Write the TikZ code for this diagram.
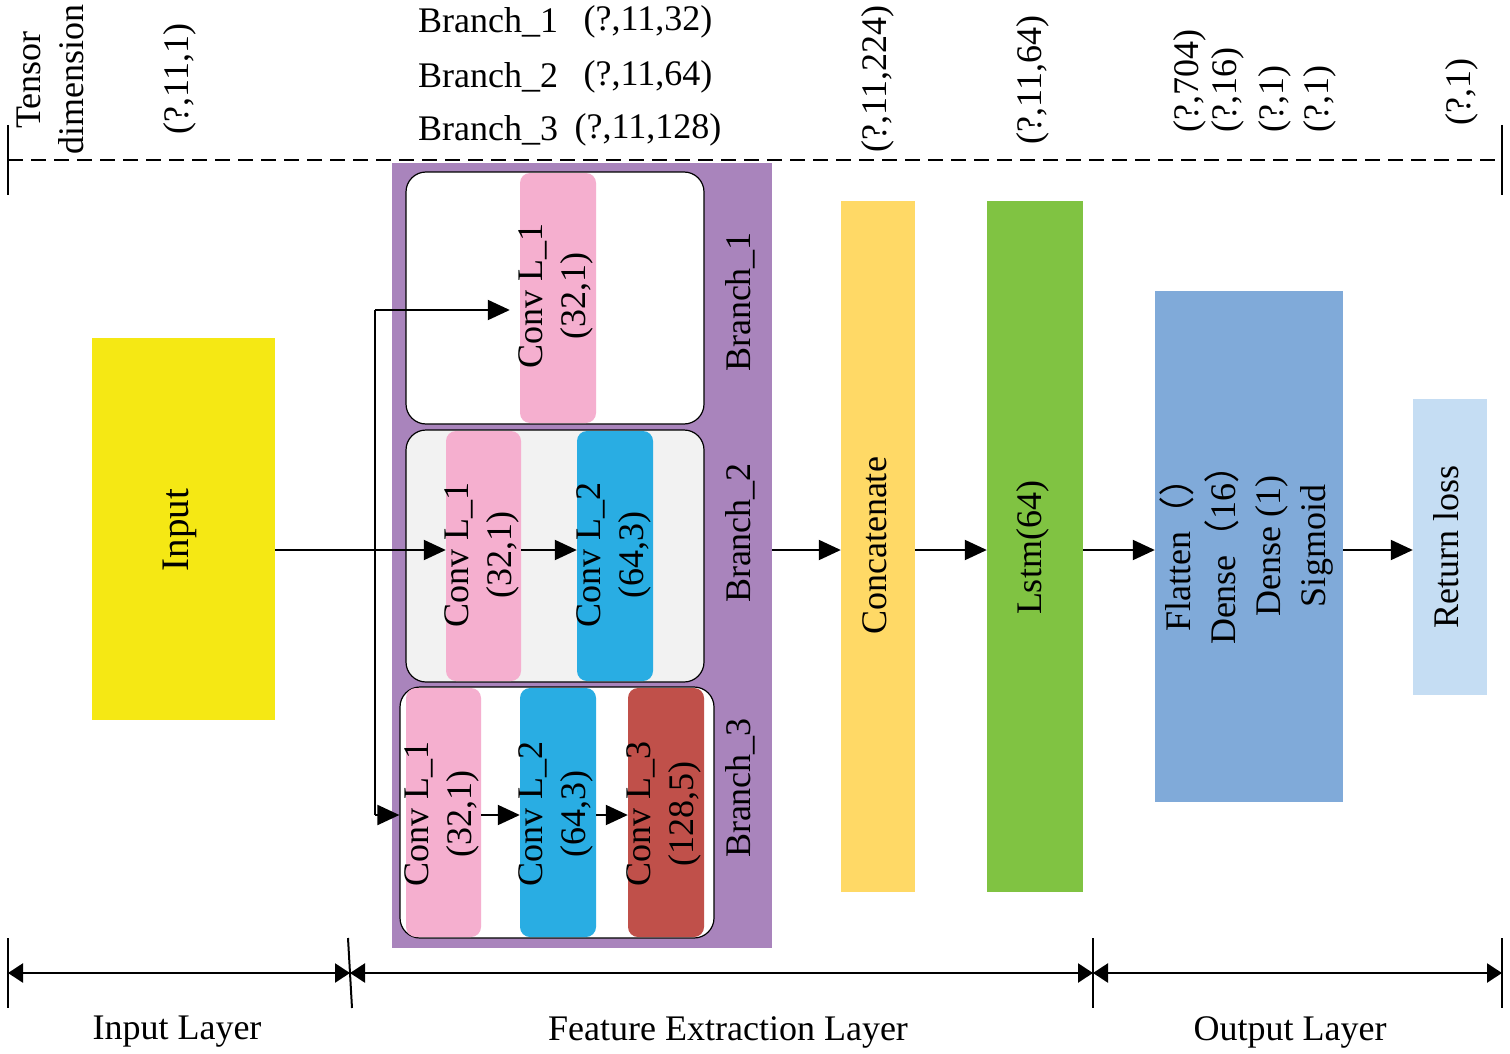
\documentclass[tikz,border=0pt]{standalone}
\usepackage{fontspec}
\setmainfont{Liberation Serif}
\newfontfamily\cjk{Noto Sans CJK SC}
\usetikzlibrary{arrows.meta}
\definecolor{purpleC}{HTML}{A984BC}
\definecolor{yellowC}{HTML}{F5E814}
\definecolor{pinkC}{HTML}{F5AFCF}
\definecolor{blueC}{HTML}{29ADE3}
\definecolor{redC}{HTML}{C0504A}
\definecolor{grayC}{HTML}{F2F2F2}
\definecolor{concC}{HTML}{FFD966}
\definecolor{lstmC}{HTML}{80C342}
\definecolor{denseC}{HTML}{80AAD9}
\definecolor{retC}{HTML}{C5DDF3}
\begin{document}
\begin{tikzpicture}[x=1pt,y=-1pt,
  font=\fontsize{36}{43}\selectfont,
  rect/.style 2 args={inner sep=0pt, minimum width=#1, minimum height=#2, draw=none},
  branchbox/.style={draw=black, line width=1.2pt, rounded corners=20pt},
  convbox/.style={rounded corners=10pt},
  vtext/.style={rotate=90, inner sep=0pt, align=center},
  arr/.style={line width=2pt, -{Triangle[length=22pt,width=20pt]}},
  dimarr/.style={line width=2.4pt, {Triangle[length=15pt,width=19pt]}-{Triangle[length=15pt,width=19pt]}},
  tick/.style={line width=2pt}
]
\useasboundingbox (0,0) rectangle (1510,1054);

% ---------- header ----------
\coordinate (tl) at (8,160);
\coordinate (tr) at (1502,160);
\coordinate (tlA) at (8,125);
\coordinate (tlB) at (8,195);
\coordinate (trA) at (1502,125);
\coordinate (trB) at (1502,195);
\draw[line width=2.2pt, dash pattern=on 15pt off 8pt] (tl) -- (tr);
\draw[tick] (tlA) -- (tlB);
\draw[tick] (trA) -- (trB);

\node[vtext] (tdim) at (50,80) {Tensor\\dimension};
\node[vtext] (d1) at (180,79) {(?,11,1)};
\node[anchor=west, inner sep=0pt] (bn1) at (418,22) {Branch\_1};
\node[anchor=west, inner sep=0pt] (bn2) at (418,77) {Branch\_2};
\node[anchor=west, inner sep=0pt] (bn3) at (418,130) {Branch\_3};
\node[inner sep=0pt] (bd1) at (648,22) {(?,11,32)};
\node[inner sep=0pt] (bd2) at (648,77) {(?,11,64)};
\node[inner sep=0pt] (bd3) at (648,130) {(?,11,128)};
\node[vtext] (d224) at (878,79) {(?,11,224)};
\node[vtext] (d64) at (1033,80) {(?,11,64)};
\node[vtext, anchor=west] (d704) at (1190,133) {(?,704)};
\node[vtext, anchor=west] (d16) at (1228,133) {(?,16)};
\node[vtext, anchor=west] (d1a) at (1275,133) {(?,1)};
\node[vtext, anchor=west] (d1b) at (1320,133) {(?,1)};
\node[vtext, anchor=west] (d1c) at (1462,126) {(?,1)};

% ---------- input ----------
\node[rect={183}{382}, fill=yellowC] (inp) at (183.5,529) {};
\node[vtext, font=\fontsize{39}{46}\selectfont] (inptxt) at (180,530) {Input};

% ---------- feature extraction ----------
\node[rect={380}{785}, fill=purpleC] (fe) at (582,555.5) {};

\node[rect={298}{252}, fill=white, branchbox] (br1) at (555,298) {};
\node[rect={76}{250}, fill=pinkC, convbox] (c11) at (558,298) {};
\node[vtext] (c11t) at (556,296) {Conv L\_1\\(32,1)};

\node[rect={298}{252}, fill=grayC, branchbox] (br2) at (555,556) {};
\node[rect={75}{250}, fill=pinkC, convbox] (c21) at (483.5,556) {};
\node[rect={76}{250}, fill=blueC, convbox] (c22) at (615,556) {};
\node[vtext] (c21t) at (482,555) {Conv L\_1\\(32,1)};
\node[vtext] (c22t) at (614,555) {Conv L\_2\\(64,3)};

\node[rect={314}{251}, fill=white, branchbox] (br3) at (557,812.5) {};
\node[rect={75}{249}, fill=pinkC, convbox] (c31) at (443.5,812.5) {};
\node[rect={76}{249}, fill=blueC, convbox] (c32) at (558,812.5) {};
\node[rect={76}{249}, fill=redC, convbox] (c33) at (666,812.5) {};
\node[vtext] (c31t) at (442,814) {Conv L\_1\\(32,1)};
\node[vtext] (c32t) at (556,814) {Conv L\_2\\(64,3)};
\node[vtext] (c33t) at (664,814) {Conv L\_3\\(128,5)};

\node[vtext] (bl1) at (740,302) {Branch\_1};
\node[vtext] (bl2) at (740,533) {Branch\_2};
\node[vtext] (bl3) at (740,788) {Branch\_3};

% ---------- later layers ----------
\node[rect={74}{691}, fill=concC] (conc) at (878,546.5) {};
\node[vtext] (conct) at (875,546) {Concatenate};
\node[rect={96}{691}, fill=lstmC] (lstm) at (1035,546.5) {};
\node[vtext] (lstmt) at (1033,548) {Lstm(64)};
\node[rect={188}{511}, fill=denseC] (dense) at (1249,546.5) {};
\node[vtext, font=\fontsize{36}{45}\selectfont] (denset) at (1246,546)
  {Flatten{\cjk（）}\\Dense{\cjk（}16{\cjk）}\\Dense (1)\\Sigmoid};
\node[rect={74}{296}, fill=retC] (ret) at (1450,547) {};
\node[vtext] (rett) at (1446,547) {Return loss};

% ---------- connectors ----------
\coordinate (mid) at (0,550);
\coordinate (low) at (0,815);
\coordinate (sTop) at (375,310);
\coordinate (sBot) at (375,815);
\draw[arr] (inp.east |- mid) -- (c21.west |- mid);
\draw[line width=2pt] (sTop) -- (sBot);
\draw[arr] (sTop) -- ([xshift=-10pt]c11.west |- sTop);
\draw[arr] (sBot) -- (br3.west |- sBot);
\draw[arr] (c21.east |- mid) -- (c22.west |- mid);
\draw[arr] (c31.east |- low) -- (c32.west |- low);
\draw[arr] (c32.east |- low) -- (c33.west |- low);
\draw[arr] (fe.east |- mid) -- (conc.west |- mid);
\draw[arr] (conc.east |- mid) -- (lstm.west |- mid);
\draw[arr] (lstm.east |- mid) -- (dense.west |- mid);
\draw[arr] (dense.east |- mid) -- (ret.west |- mid);

% ---------- bottom layer spans ----------
\coordinate (b0t) at (8,938);   \coordinate (b0b) at (8,1008);
\coordinate (b1t) at (348,938); \coordinate (b1b) at (352,1008);
\coordinate (b2t) at (1093,938);\coordinate (b2b) at (1093,1008);
\coordinate (b3t) at (1502,938);\coordinate (b3b) at (1502,1008);
\draw[tick] (b0t) -- (b0b);
\draw[tick] (b1t) -- (b1b);
\draw[tick] (b2t) -- (b2b);
\draw[tick] (b3t) -- (b3b);
\coordinate (a0) at (8,973);
\coordinate (a1) at (350,973);
\coordinate (a2) at (1093,973);
\coordinate (a3) at (1502,973);
\draw[dimarr] (a0) -- (a1);
\draw[dimarr] (a1) -- (a2);
\draw[dimarr] (a2) -- (a3);
\node (lin) at (177,1032) {Input Layer};
\node (lfe) at (728,1032) {Feature Extraction Layer};
\node (lout) at (1290,1032) {Output Layer};
\end{tikzpicture}
\end{document}
